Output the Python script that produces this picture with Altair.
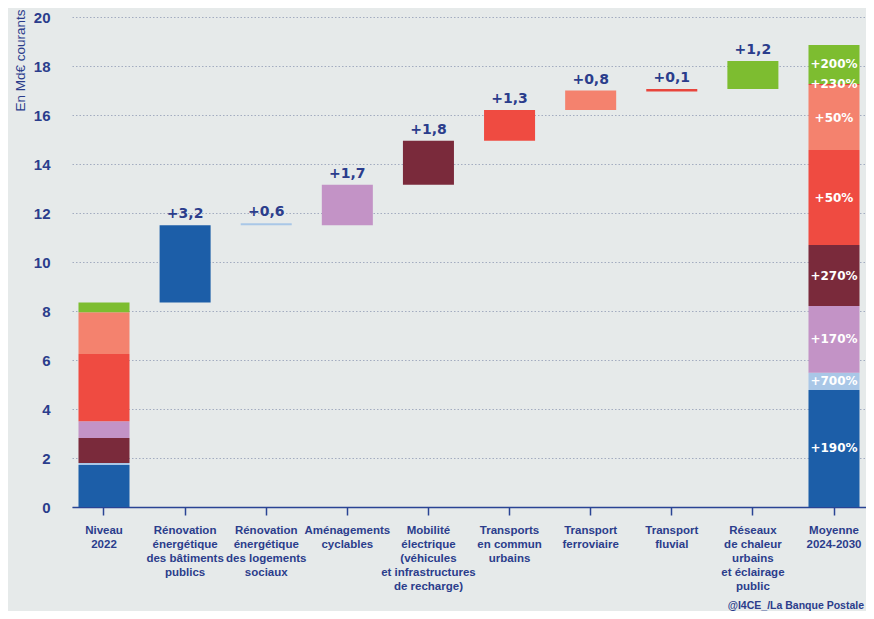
import altair as alt
import pandas as pd

# ---------------- data ----------------
categories = [
    "Niveau|2022",
    "Rénovation|énergétique|des bâtiments|publics",
    "Rénovation|énergétique|des logements|sociaux",
    "Aménagements|cyclables",
    "Mobilité|électrique|(véhicules|et infrastructures|de recharge)",
    "Transports|en commun|urbains",
    "Transport|ferroviaire",
    "Transport|fluvial",
    "Réseaux|de chaleur|urbains|et éclairage|public",
    "Moyenne|2024-2030",
]

# 2022 level, stacked segments (bottom -> top)
base_tops = [1.71, 1.80, 2.82, 3.50, 6.25, 7.95, 8.35]
base_colors = ["#1c5ea8", "#a9c7e7", "#7a2a3b", "#c393c6", "#ef4b41", "#f4826e", "#7dbd30"]

# waterfall steps
step_labels = ["+3,2", "+0,6", "+1,7", "+1,8", "+1,3", "+0,8", "+0,1", "+1,2"]
step_start = [8.35, 11.50, 11.50, 13.15, 14.95, 16.20, 16.96, 17.06]
step_end = [11.50, 11.58, 13.15, 14.95, 16.20, 17.00, 17.06, 18.20]
step_colors = ["#1c5ea8", "#a9c7e7", "#c393c6", "#7a2a3b", "#ef4b41", "#f4826e", "#e8453c", "#7dbd30"]

# 2024-2030 average, stacked segments (bottom -> top)
final_tops = [4.78, 5.48, 8.20, 10.69, 14.57, 17.22, 17.27, 18.86]
final_colors = ["#1c5ea8", "#a9c7e7", "#c393c6", "#7a2a3b", "#ef4b41", "#f4826e", "#e8453c", "#7dbd30"]
final_labels = ["+190%", "+700%", "+170%", "+270%", "+50%", "+50%", "+230%", "+200%"]

y_ticks = [0, 2, 4, 6, 8, 10, 12, 14, 16, 18, 20]
credit = "@I4CE_/La Banque Postale"

NAVY = "#2b3d8c"
BG = "#e6eaea"

# ---------------- tables ----------------
rows = []
prev = 0.0
for top, col in zip(base_tops, base_colors):
    rows.append(dict(cat=categories[0], y0=prev, y1=top, color=col))
    prev = top
for i, (s, e, col) in enumerate(zip(step_start, step_end, step_colors)):
    rows.append(dict(cat=categories[i + 1], y0=s, y1=e, color=col))
final_rows = []
prev = 0.0
for top, col, lab in zip(final_tops, final_colors, final_labels):
    rows.append(dict(cat=categories[-1], y0=prev, y1=top, color=col))
    final_rows.append(dict(cat=categories[-1], mid=(prev + top) / 2, lab=lab))
    prev = top
bars_df = pd.DataFrame(rows)
final_df = pd.DataFrame(final_rows)
steps_df = pd.DataFrame(dict(cat=categories[1:-1], y=step_end, text=step_labels))
credit_df = pd.DataFrame(dict(t=[credit]))

x_scale = alt.Scale(paddingInner=0.371, paddingOuter=0.08)
x_enc = alt.X(
    "cat:N",
    sort=categories,
    scale=x_scale,
    axis=alt.Axis(
        title=None,
        labelAngle=0,
        labelExpr="split(datum.value, '|')",
        labelFont="Liberation Sans",
        labelFontWeight="bold",
        labelFontSize=11.5,
        labelLineHeight=14,
        labelColor=NAVY,
        labelPadding=9,
        domainColor="#2a4494",
        domainWidth=1.5,
        tickColor="#2a4494",
        tickWidth=1.5,
        tickSize=8,
        grid=False,
    ),
)
y_scale = alt.Scale(domain=[0, 20], nice=False)
y_enc = alt.Y(
    "y0:Q",
    scale=y_scale,
    axis=alt.Axis(
        values=y_ticks,
        title="En Md€ courants",
        titleFont="Liberation Sans",
        titleFontSize=13.5,
        titleFontWeight="normal",
        titleColor=NAVY,
        titleAngle=-90,
        titleAlign="right",
        titleBaseline="alphabetic",
        titleX=-48,
        titleY=-8,
        labelFont="Liberation Sans",
        labelFontWeight="bold",
        labelFontSize=15,
        labelColor=NAVY,
        labelPadding=22,
        ticks=False,
        tickSize=0,
        domain=False,
        grid=True,
        gridColor="#a3acc0",
        gridDash=[1.5, 2],
        gridWidth=1,
    ),
)

bars = alt.Chart(bars_df).mark_bar().encode(
    x=x_enc,
    y=y_enc,
    y2="y1:Q",
    color=alt.Color("color:N", scale=None),
)

step_text = alt.Chart(steps_df).mark_text(
    dy=-7, baseline="alphabetic", font="DejaVu Sans", fontWeight="bold",
    fontSize=14, color=NAVY,
).encode(
    x=alt.X("cat:N", sort=categories),
    y=alt.Y("y:Q"),
    text="text:N",
)

final_text = alt.Chart(final_df).mark_text(
    baseline="middle", font="DejaVu Sans", fontWeight="bold",
    fontSize=12, color="white",
).encode(
    x=alt.X("cat:N", sort=categories),
    y=alt.Y("mid:Q"),
    text="lab:N",
)

credit_text = alt.Chart(credit_df).mark_text(
    align="right", baseline="alphabetic", font="Liberation Sans",
    fontWeight="bold", fontSize=10.5, color=NAVY,
).encode(
    x=alt.value(792),
    y=alt.value(592),
    text="t:N",
)

chart = alt.layer(bars, step_text, final_text, credit_text).properties(
    width=794,
    height=490,
    autosize="none",
    padding={"left": 64, "top": 9, "right": 0, "bottom": 104},
    background=BG,
).configure_view(stroke=None)

chart.save("out.html", embed_options={"renderer": "svg", "actions": False})
